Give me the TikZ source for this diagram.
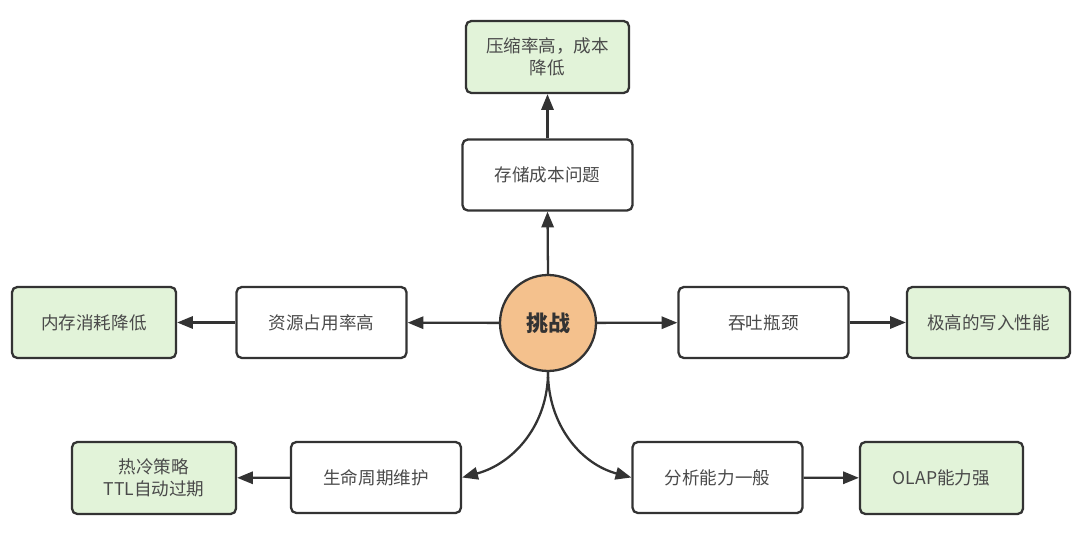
\documentclass[tikz,border=0pt]{standalone}
\usepackage{fontspec}
\setmainfont{Noto Sans CJK SC}
\usepackage{xcolor}
\usepackage{tikz}
\usetikzlibrary{arrows.meta, positioning}

\definecolor{edgegray}{HTML}{333333}
\definecolor{textgray}{HTML}{4A4A4A}
\definecolor{leafgreen}{HTML}{E2F3D9}
\definecolor{huborange}{HTML}{F4C18D}

\begin{document}
\begin{tikzpicture}[
    x=0.02cm, y=-0.02cm,
    font=\fontsize{10}{12.5}\selectfont,
    line width=1.3pt,
    >={Triangle[length=9pt, width=7pt]},
    box/.style={rectangle, draw=edgegray, fill=#1, rounded corners=3pt, minimum width=3.4cm, minimum height=1.42cm, align=center, text=textgray, inner sep=2pt},
    box/.default=white,
    hub/.style={circle, draw=edgegray, fill=huborange, minimum size=1.92cm, inner sep=0pt, font=\fontsize{12.5}{14}\selectfont\bfseries, text=edgegray},
    link/.style={->, draw=edgegray},
]
    \useasboundingbox (0,0) rectangle (1080,546);

    % centre
    \node[hub] (challenge) at (548,323) {挑战};

    % problems
    \node[box] (storage) at (547.5,175) {存储成本问题};
    \node[box] (resource) at (321.5,322.5) {资源占用率高};
    \node[box] (throughput) at (763.5,322.5) {吞吐瓶颈};
    \node[box] (lifecycle) at (376,477.5) {生命周期维护};
    \node[box] (analysis) at (717.5,477.5) {分析能力一般};

    % answers
    \node[box=leafgreen, minimum width=3.26cm, minimum height=1.44cm] (compress) at (547.5,57) {压缩率高，成本\\降低};
    \node[box=leafgreen, minimum width=3.28cm] (memory) at (94,322.5) {内存消耗降低};
    \node[box=leafgreen, minimum width=3.26cm] (write) at (988.5,322.5) {极高的写入性能};
    \node[box=leafgreen, minimum width=3.28cm, minimum height=1.44cm] (hotcold) at (154,478) {热冷策略\\TTL自动过期};
    \node[box=leafgreen, minimum width=3.26cm, minimum height=1.44cm] (olap) at (941.5,478) {OLAP能力强};

    \draw[link] (challenge.north) -- (storage.south);
    \draw[link] (storage) -- (compress);
    \draw[link] (challenge) -- (resource);
    \draw[link] (resource) -- (memory);
    \draw[link] (challenge) -- (throughput);
    \draw[link] (throughput) -- (write);
    \draw[link] (challenge.south) to[out=-90, in=15] (lifecycle.east);
    \draw[link] (lifecycle) -- (hotcold);
    \draw[link] (challenge.south) to[out=-90, in=165] (analysis.west);
    \draw[link] (analysis) -- (olap);
\end{tikzpicture}
\end{document}
